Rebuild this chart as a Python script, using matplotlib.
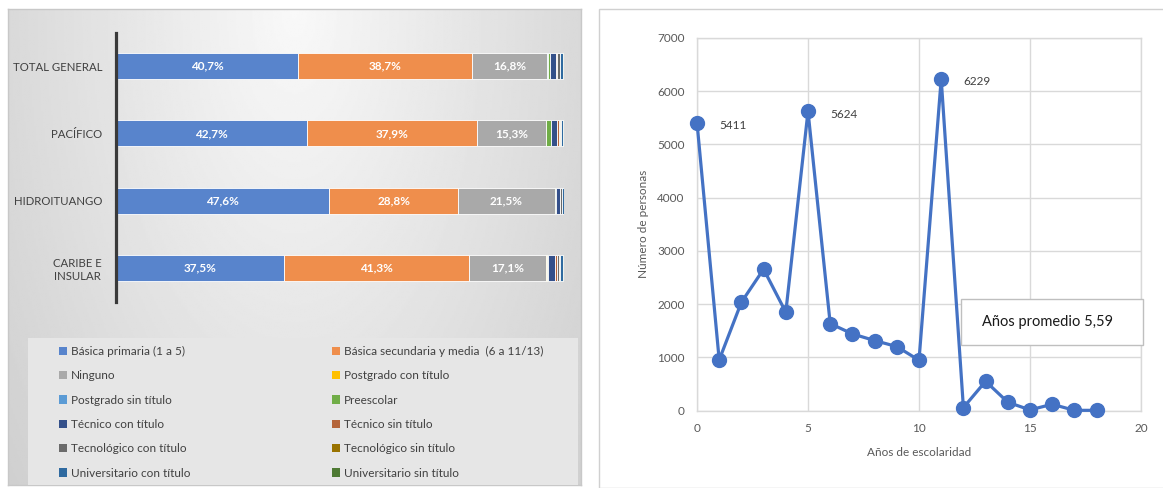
import numpy as np
import matplotlib
matplotlib.use("Agg")
import matplotlib.pyplot as plt
from matplotlib.patches import Rectangle, Patch

plt.rcParams['font.family'] = ['Lato', 'DejaVu Sans']

# ---------------- data: left chart ----------------
regions = ["CARIBE E\nINSULAR", "HIDROITUANGO", "PACÍFICO", "TOTAL GENERAL"]
levels = ["Básica primaria (1 a 5)", "Básica secundaria y media  (6 a 11/13)", "Ninguno",
          "Postgrado con título", "Postgrado sin título", "Preescolar",
          "Técnico con título", "Técnico sin título", "Tecnológico con título",
          "Tecnológico sin título", "Universitario con título", "Universitario sin título"]
level_colors = ["#5884cc", "#ef8e4c", "#a9a9a9", "#ffc000", "#5b9bd5", "#70ad47",
                "#34508a", "#b5653a", "#6b6b6b", "#997300", "#2f6aa0", "#4e7a34"]
# percentages per region (order of `regions`)
basica_primaria = [37.5, 47.6, 42.7, 40.7]
basica_secundaria = [41.3, 28.8, 37.9, 38.7]
ninguno = [17.1, 21.5, 15.3, 16.8]
postgrado_con = [0.2, 0.0, 0.05, 0.1]
postgrado_sin = [0.0, 0.0, 0.05, 0.05]
preescolar = [0.3, 0.3, 1.0, 0.5]
tecnico_con = [1.6, 0.9, 1.4, 1.3]
tecnico_sin = [0.4, 0.1, 0.4, 0.3]
tecnologico_con = [0.5, 0.3, 0.4, 0.6]
tecnologico_sin = [0.1, 0.05, 0.1, 0.1]
universitario_con = [0.7, 0.35, 0.5, 0.6]
universitario_sin = [0.3, 0.1, 0.2, 0.25]
series = [basica_primaria, basica_secundaria, ninguno, postgrado_con, postgrado_sin,
          preescolar, tecnico_con, tecnico_sin, tecnologico_con, tecnologico_sin,
          universitario_con, universitario_sin]
labelled_series = 3  # first three series carry value labels

# ---------------- data: right chart ----------------
years = list(range(0, 19))
persons = [5411, 952, 2036, 2657, 1848, 5624, 1635, 1441, 1316, 1203, 946, 6229,
           56, 551, 157, 13, 119, 5, 5]
annotated_years = [0, 5, 11]
average_text = "Años promedio 5,59"

W, H = 1163, 488
fig = plt.figure(figsize=(W / 100, H / 100), dpi=100)
fig.patch.set_facecolor("white")


def fx(x):
    return x / W


def fy(y):
    return 1 - y / H


def rect_px(x0, y0, x1, y1):
    return [fx(x0), fy(y1), fx(x1) - fx(x0), fy(y0) - fy(y1)]


# ---------- left panel background (gradient) ----------
bg = fig.add_axes(rect_px(8, 9, 581, 485), zorder=0)
gx = np.linspace(-1, 1, 300)
gy = np.linspace(0, 1, 250)
GX, GY = np.meshgrid(gx, gy)
R = np.sqrt((GX * 0.95) ** 2 + (GY * 0.8) ** 2)
grad = 0.975 - 0.13 * np.clip(R, 0, 1.3)
bg.imshow(grad, cmap="gray", vmin=0, vmax=1, aspect="auto", extent=[0, 1, 1, 0])
bg.set_xticks([])
bg.set_yticks([])
for s in bg.spines.values():
    s.set_color("#c8c8c8")
    s.set_linewidth(1)

# legend box
fig.patches.append(Rectangle((fx(28), fy(485)), fx(578) - fx(28), fy(338) - fy(485),
                             transform=fig.transFigure, facecolor="#e6e6e6",
                             edgecolor="none", zorder=1))

# right panel border
fig.patches.append(Rectangle((fx(599), fy(488)), fx(1163) - fx(599) + 0.01, fy(9) - fy(488),
                             transform=fig.transFigure, facecolor="white",
                             edgecolor="#d0d0d0", linewidth=1, zorder=0))

# ---------- left bar chart ----------
ax = fig.add_axes(rect_px(116, 32.5, 564, 301.5), zorder=2)
ax.patch.set_alpha(0)
ypos = np.arange(len(regions))
left = np.zeros(len(regions))
for i, (vals, col, name) in enumerate(zip(series, level_colors, levels)):
    vals = np.array(vals, dtype=float)
    bars = ax.barh(ypos, vals, left=left, height=0.39, color=col,
                   edgecolor="white", linewidth=0.6, label=name)
    if i < labelled_series:
        for b, v in zip(bars, vals):
            ax.text(b.get_x() + b.get_width() / 2, b.get_y() + b.get_height() / 2,
                    f"{v:.1f}%".replace(".", ","), ha="center", va="center",
                    color="white", fontsize=8.5, fontweight="bold")
    left += vals
ax.set_xlim(0, 100)
ax.set_ylim(-0.5, 3.5)
ax.set_yticks(ypos)
ax.set_yticklabels(regions, fontsize=8.2, color="#404040")
for lab in ax.get_yticklabels():
    lab.set_multialignment("center")
ax.tick_params(axis="y", length=0, pad=10)
ax.set_xticks([])
for k in ["top", "right", "bottom"]:
    ax.spines[k].set_visible(False)
ax.spines["left"].set_color("#3a3a3a")
ax.spines["left"].set_linewidth(2.3)

# legends (row-wise reading order: two columns)
handles = [Patch(facecolor=c, edgecolor="none") for c in level_colors]
col1 = list(range(0, len(levels), 2))
col2 = list(range(1, len(levels), 2))
leg_kw = dict(loc="upper left", frameon=False, fontsize=8.5, borderpad=0,
              borderaxespad=0, handlelength=0.7, handleheight=0.7,
              handletextpad=0.3, labelspacing=1.13, labelcolor="#404040")
leg1 = fig.legend([handles[i] for i in col1], [levels[i] for i in col1],
                  bbox_to_anchor=(fx(59), fy(346)), **leg_kw)
leg2 = fig.legend([handles[i] for i in col2], [levels[i] for i in col2],
                  bbox_to_anchor=(fx(332), fy(346)), **leg_kw)
leg1.set_zorder(3)
leg2.set_zorder(3)

# ---------- right line chart ----------
ax2 = fig.add_axes(rect_px(697, 38, 1141, 410.6), zorder=2)
ax2.plot(years, persons, color="#4472c4", linewidth=2.3, marker="o",
         markersize=10, clip_on=False, zorder=3)
for yr in annotated_years:
    ax2.annotate(str(persons[yr]), (yr, persons[yr]), xytext=(16, -2),
                 textcoords="offset points", ha="left", va="center",
                 fontsize=8.5, color="#404040")
ax2.set_xlim(0, 20)
ax2.set_ylim(0, 7000)
ax2.set_xticks(range(0, 21, 5))
ax2.set_yticks(range(0, 7001, 1000))
ax2.grid(True, color="#d9d9d9", linewidth=1)
ax2.set_axisbelow(True)
for s in ax2.spines.values():
    s.set_color("#d9d9d9")
    s.set_linewidth(1)
ax2.tick_params(length=0, labelsize=8.5, labelcolor="#595959", pad=9)
ax2.set_xlabel("Años de escolaridad", fontsize=8.5, color="#595959", labelpad=9)
ax2.set_ylabel("Número de personas", fontsize=8.5, color="#595959", labelpad=6)

# average text box
fig.patches.append(Rectangle((fx(961), fy(345)), fx(1143) - fx(961), fy(299) - fy(345),
                             transform=fig.transFigure, facecolor="white",
                             edgecolor="#bfbfbf", linewidth=1, zorder=5))
fig.text(fx(982), fy(322), average_text, ha="left", va="center", fontsize=10.5,
         color="#1a1a1a", zorder=6)

fig.savefig("out.png", dpi=100)
